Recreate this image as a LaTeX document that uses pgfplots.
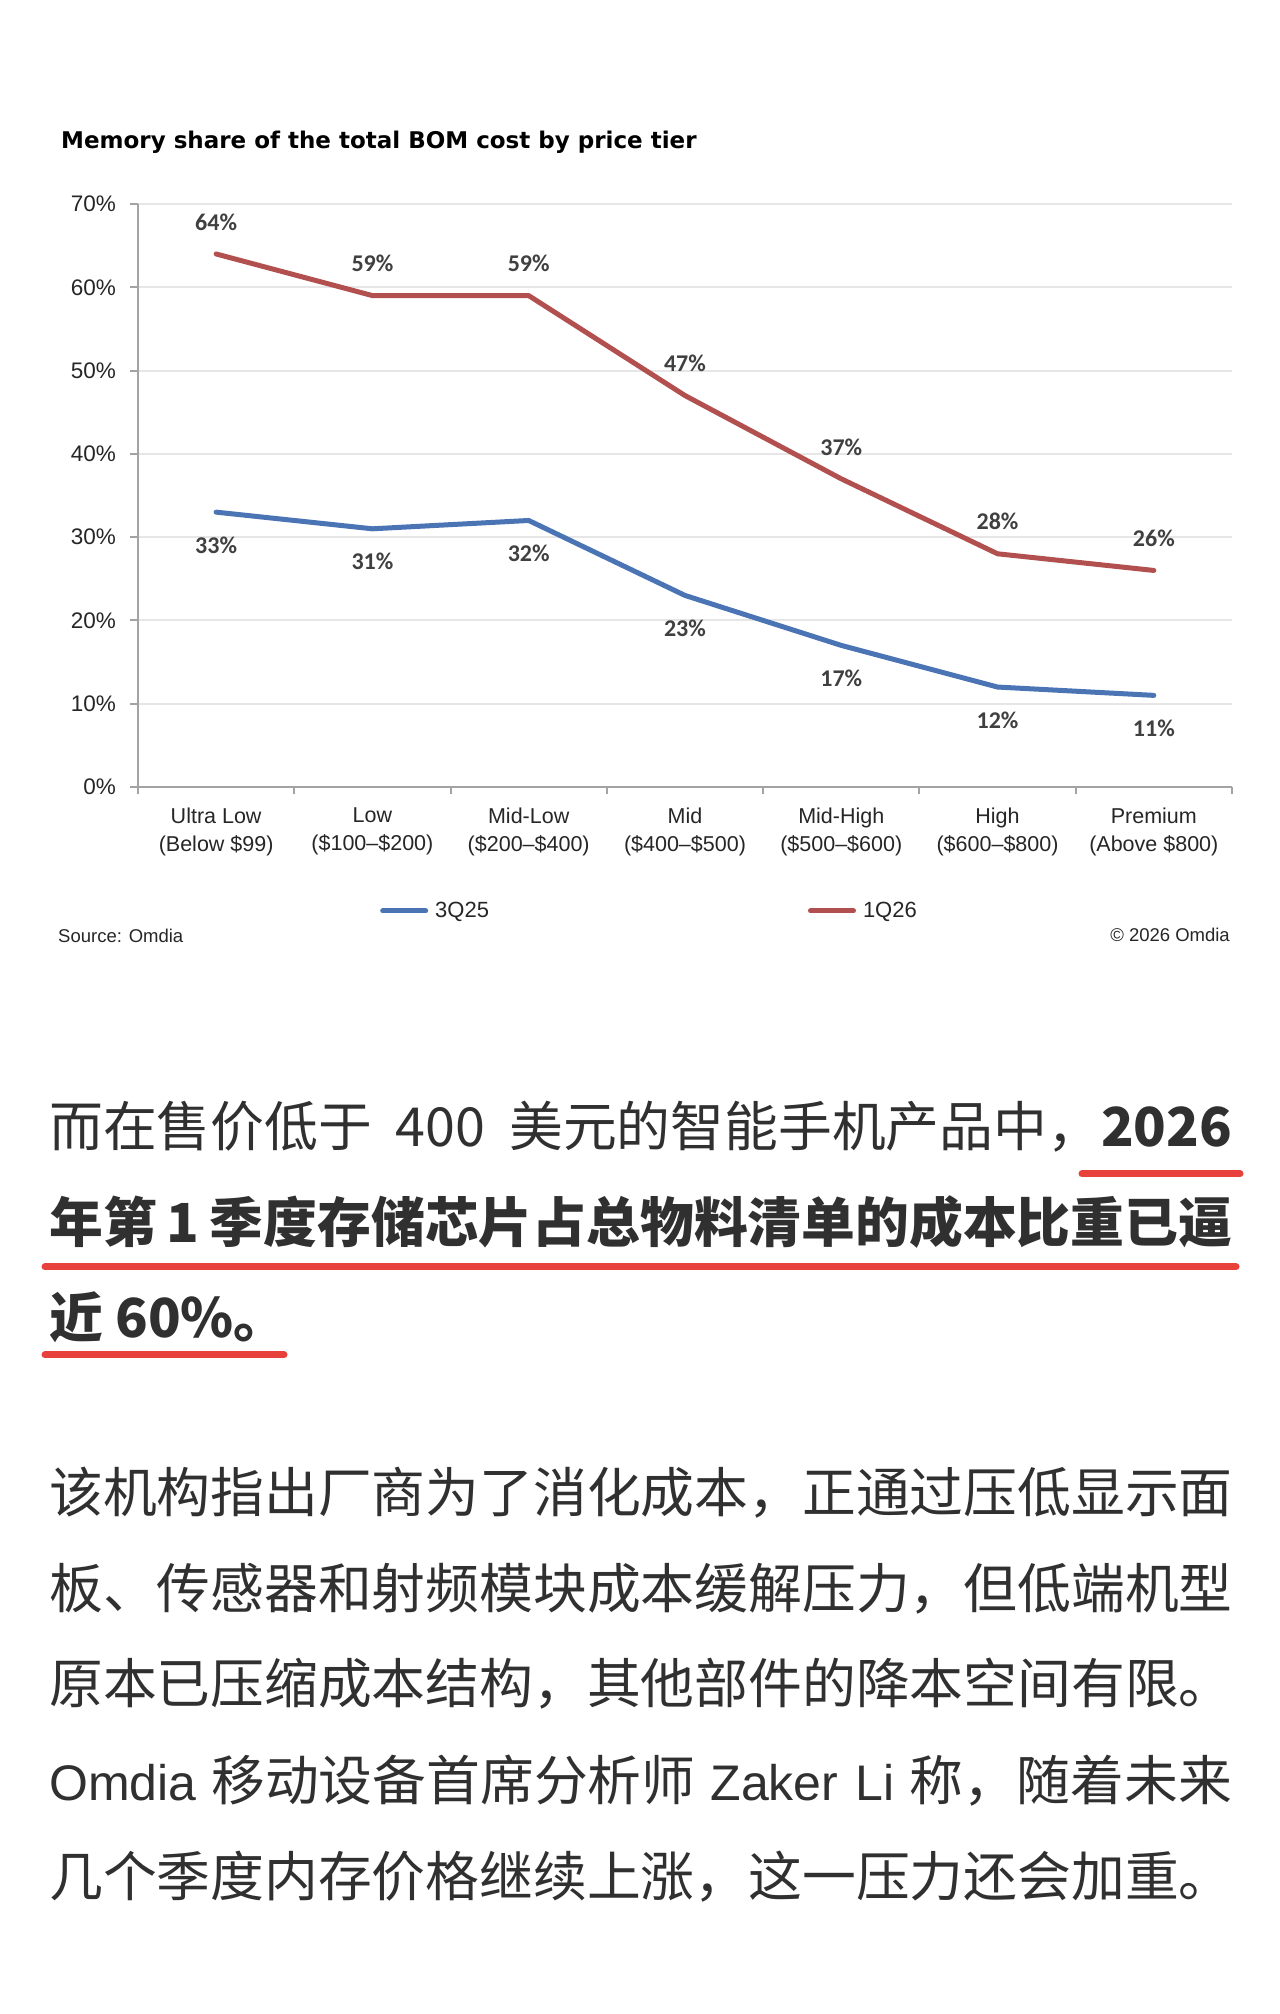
\documentclass[border=0pt]{standalone}
\usepackage{pgfplots}
\pgfplotsset{compat=1.18}
\usepackage{fontspec}
\setmainfont{Liberation Sans}
\newfontfamily\lblfont{Carlito}
\newfontfamily\titlefont{DejaVu Sans}
\newfontfamily\cjk{Noto Sans CJK SC}
\newfontfamily\latinbody{Liberation Sans}

\definecolor{seriesblue}{HTML}{4A74B4}
\definecolor{seriesred}{HTML}{B2504F}
\definecolor{gridgray}{HTML}{E6E6E6}
\definecolor{axisgray}{HTML}{A3A3A3}
\definecolor{labelgray}{HTML}{404040}
\definecolor{ticktext}{HTML}{262626}
\definecolor{bodytext}{HTML}{303030}
\definecolor{markred}{HTML}{E8413B}

% memory share of BOM cost (%), by price tier
\pgfplotstableread{
tier share
0 33
1 31
2 32
3 23
4 17
5 12
6 11
}\threeqtwentyfive
\pgfplotstableread{
tier share
0 64
1 59
2 59
3 47
4 37
5 28
6 26
}\oneqtwentysix

\newcommand{\lat}[1]{{\latinbody\fontsize{50}{60}\selectfont #1}}

\begin{document}
\begin{tikzpicture}[x=1pt,y=1pt]
% page canvas, 1280 x 2014, y grows upward
\fill[white] (0,0) rectangle (1280,2014);

% chart title
\node[anchor=base west, inner sep=0pt, text=black,
      font=\titlefont\bfseries\fontsize{23}{28}\selectfont]
  at (61,1865) {Memory share of the total BOM cost by price tier};

\begin{axis}[
  at={(138pt,1227pt)}, anchor=south west,
  scale only axis, width=1094pt, height=583pt,
  xmin=-0.5, xmax=6.5, ymin=0, ymax=70,
  axis x line=bottom, axis y line=left,
  axis line style={-, draw=axisgray, line width=2pt},
  ymajorgrids, grid style={draw=gridgray, line width=2pt},
  tick align=outside,
  ytick={0,10,...,70},
  yticklabels={0\%,10\%,20\%,30\%,40\%,50\%,60\%,70\%},
  major tick length=8pt,
  y tick style={draw=axisgray, line width=2pt},
  yticklabel style={anchor=east, inner sep=0pt, xshift=-14pt, text=ticktext,
                    font=\fontsize{22.5}{26}\selectfont},
  xtick={0,...,6},
  major x tick style={draw=none},
  minor xtick={-0.5,0.5,...,6.5},
  minor tick length=7pt,
  minor x tick style={draw=axisgray, line width=2pt},
  xticklabels={{Ultra Low\\(Below \$99)},{Low\\(\$100--\$200)},{Mid-Low\\(\$200--\$400)},
               {Mid\\(\$400--\$500)},{Mid-High\\(\$500--\$600)},{High\\(\$600--\$800)},
               {Premium\\(Above \$800)}},
  xticklabel style={align=center, anchor=north, inner sep=0pt, yshift=-13pt, text=ticktext,
                    font=\fontsize{21.5}{27.5}\selectfont},
  /pgf/number format/assume math mode=true,
  legend columns=2,
  legend style={at={(0.2212,-0.2127)}, anchor=west, draw=none, fill=none,
                inner sep=0pt, text=ticktext, font=\fontsize{22}{26}\selectfont,
                /tikz/every odd column/.append style={column sep=5pt},
                /tikz/column 2/.style={column sep=317pt}},
  legend cell align=left,
  clip=false,
]
\addplot[seriesblue, line width=5pt, line join=round, line cap=round, mark=none,
         nodes near coords={\pgfmathprintnumber[fixed,precision=0]{\pgfplotspointmeta}\%},
         every node near coord/.append style={anchor=center, yshift=-33pt, text=labelgray,
           font=\lblfont\bfseries\fontsize{24}{28}\selectfont},
         legend image code/.code={\draw[seriesblue, line width=5pt, line cap=round]
           (2.5pt,0pt) -- (45.5pt,0pt);}]
  table[x=tier, y=share] {\threeqtwentyfive};
\addlegendentry{3Q25}
\addplot[seriesred, line width=5pt, line join=round, line cap=round, mark=none,
         nodes near coords={\pgfmathprintnumber[fixed,precision=0]{\pgfplotspointmeta}\%},
         every node near coord/.append style={anchor=center, yshift=32pt, text=labelgray,
           font=\lblfont\bfseries\fontsize{24}{28}\selectfont},
         legend image code/.code={\draw[seriesred, line width=5pt, line cap=round]
           (2.5pt,0pt) -- (45.5pt,0pt);}]
  table[x=tier, y=share] {\oneqtwentysix};
\addlegendentry{1Q26}
\end{axis}

% footer of the chart
\node[anchor=west, inner sep=0pt, text=ticktext, font=\fontsize{18.5}{22}\selectfont]
  at (58,1078) {Source: Omdia};
\node[anchor=east, inner sep=0pt, text=ticktext, font=\fontsize{18.5}{22}\selectfont]
  at (1230,1079) {\textcopyright{} 2026 Omdia};

% article text
\begin{scope}[every node/.style={anchor=base west, inner sep=0pt, text=bodytext,
      font=\cjk\fontsize{53.8}{60}\selectfont}]
\node at (49,867) {\makebox[1183pt][s]{而在售价低于 400 美元的智能手机产品中，{\bfseries 2026}}};
\node at (49,771) {\bfseries\makebox[1183pt][s]{年第 1 季度存储芯片占总物料清单的成本比重已逼}};
\node at (49,676) {\bfseries 近 60\%。};

\node at (49,501) {该机构指出厂商为了消化成本，正通过压低显示面};
\node at (49,405) {板、传感器和射频模块成本缓解压力，但低端机型};
\node at (49,310) {原本已压缩成本结构，其他部件的降本空间有限。};
\node at (49,213) {\makebox[1183pt][s]{\lat{Omdia} 移动设备首席分析师 \lat{Zaker Li} 称，随着未来}};
\node at (49,117) {几个季度内存价格继续上涨，这一压力还会加重。};
\end{scope}

% red highlight underlines
\draw[markred, line width=7pt, line cap=round] (1082,840) -- (1240,840);
\draw[markred, line width=7pt, line cap=round] (45,747) -- (1236,747);
\draw[markred, line width=7pt, line cap=round] (45,659) -- (284,659);

\pgfresetboundingbox
\path[use as bounding box] (0,0) rectangle (1280,2014);
\end{tikzpicture}
\end{document}
